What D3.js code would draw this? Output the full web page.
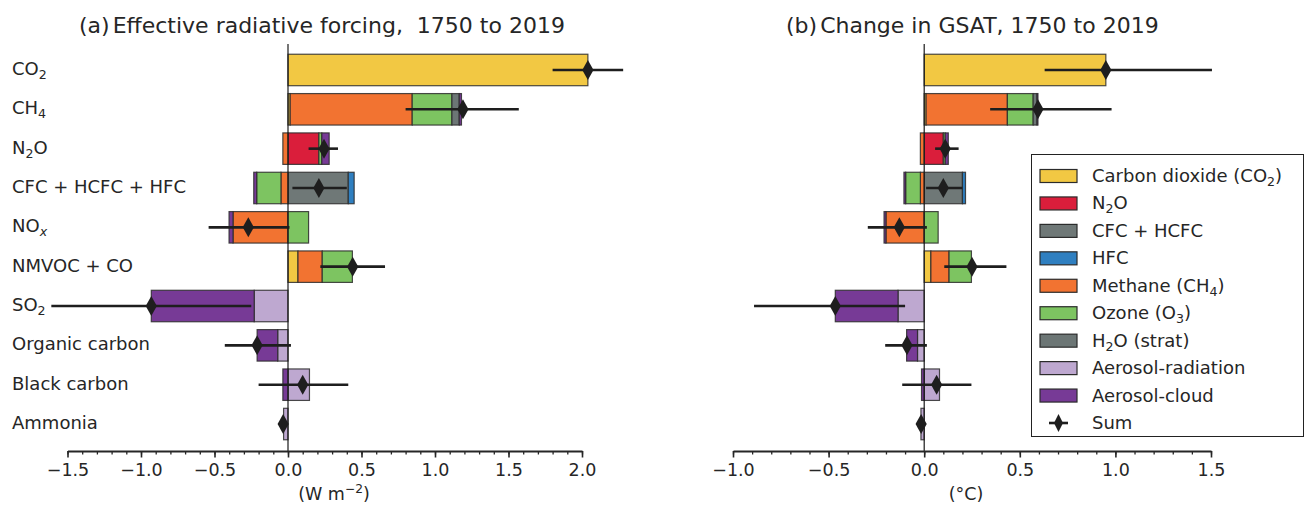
<!DOCTYPE html>
<html><head><meta charset="utf-8">
<script src="https://cdn.jsdelivr.net/npm/d3@7"></script>
<style>
html,body{margin:0;padding:0;background:#fff;}
svg{display:block;font-family:"DejaVu Sans",sans-serif;}
</style></head>
<body><svg id="c" width="1305" height="506"></svg>
<script>
// ---------- DATA ----------
const categories = ["CO_2","CH_4","N_2O","CFC + HCFC + HFC","NO_x","NMVOC + CO","SO_2","Organic carbon","Black carbon","Ammonia"];
const components = ["co2","n2o","cfc","hfc","ch4","o3","h2o","aerRad","aerCloud"];
const componentLabels = ["Carbon dioxide (CO_2)","N_2O","CFC + HCFC","HFC","Methane (CH_4)","Ozone (O_3)","H_2O (strat)","Aerosol-radiation","Aerosol-cloud"];
const componentColors = ["#f2c843","#da1e3b","#6f7877","#2f7fc0","#f27331","#7dc461","#6c7675","#bea8d0","#773a96"];

// (a) Effective radiative forcing, W m-2
const erfCO2      = [2.04, 0.015, 0, 0, 0, 0.068, 0, 0, 0, 0];
const erfN2O      = [0, 0, 0.21, 0, 0, 0, 0, 0, 0, 0];
const erfCFC      = [0, 0, 0, 0.41, 0, 0, 0, 0, 0, 0];
const erfHFC      = [0, 0, 0, 0.04, 0, 0, 0, 0, 0, 0];
const erfCH4      = [0, 0.83, -0.035, -0.048, -0.374, 0.165, 0, 0, 0, 0];
const erfO3       = [0, 0.27, 0.02, -0.165, 0.14, 0.205, 0, 0, 0, 0];
const erfH2O      = [0, 0.05, 0, 0, 0, 0, 0, 0, 0, 0];
const erfAerRad   = [0, 0, 0, 0, 0, 0, -0.23, -0.07, 0.146, -0.03];
const erfAerCloud = [0, 0.015, 0.05, -0.02, -0.027, 0, -0.70, -0.14, -0.035, 0];
const erfSum      = [2.04, 1.19, 0.245, 0.21, -0.27, 0.44, -0.93, -0.21, 0.10, -0.033];
const erfLow      = [1.80, 0.80, 0.14, 0.03, -0.54, 0.22, -1.61, -0.43, -0.20, -0.04];
const erfHigh     = [2.28, 1.57, 0.34, 0.40, 0.01, 0.66, -0.25, 0.02, 0.41, -0.025];

// (b) Change in GSAT, degC
const gsatCO2      = [0.95, 0.01, 0, 0, 0, 0.035, 0, 0, 0, 0];
const gsatN2O      = [0, 0, 0.10, 0, 0, 0, 0, 0, 0, 0];
const gsatCFC      = [0, 0, 0, 0.20, 0, 0, 0, 0, 0, 0];
const gsatHFC      = [0, 0, 0, 0.016, 0, 0, 0, 0, 0, 0];
const gsatCH4      = [0, 0.425, -0.02, -0.02, -0.20, 0.095, 0, 0, 0, 0];
const gsatO3       = [0, 0.135, 0.01, -0.077, 0.073, 0.117, 0, 0, 0, 0];
const gsatH2O      = [0, 0.02, 0, 0, 0, 0, 0, 0, 0, 0];
const gsatAerRad   = [0, 0, 0, 0, 0, 0, -0.137, -0.035, 0.08, -0.017];
const gsatAerCloud = [0, 0.005, 0.016, -0.009, -0.01, 0, -0.328, -0.057, -0.014, 0];
const gsatSum      = [0.95, 0.595, 0.11, 0.10, -0.13, 0.25, -0.465, -0.09, 0.065, -0.016];
const gsatLow      = [0.63, 0.345, 0.057, 0.01, -0.295, 0.105, -0.89, -0.204, -0.115, -0.022];
const gsatHigh     = [1.505, 0.98, 0.18, 0.20, 0.014, 0.43, -0.10, 0.014, 0.247, -0.012];

const erfTicks = [-1.5,-1.0,-0.5,0.0,0.5,1.0,1.5,2.0];
const gsatTicks = [-1.0,-0.5,0.0,0.5,1.0,1.5];

// ---------- HELPERS ----------
const svg = d3.select("#c");
const TXT = "#262626";

function rich(textSel, str) {
  const parts = str.split(/(_\{[^}]*\}|_.|\^\{[^}]*\})/).filter(s => s.length);
  let shifted = 0;
  parts.forEach(p => {
    let mode = null, t = p;
    if (p.startsWith("_")) { mode = "sub"; t = p[1] === "{" ? p.slice(2,-1) : p.slice(1); }
    else if (p.startsWith("^")) { mode = "sup"; t = p.slice(2,-1); }
    const ts = textSel.append("tspan").text(t);
    if (mode === "sub") {
      ts.attr("font-size","70%").attr("dy", (0.32 - shifted) + "em");
      shifted = 0.32;
      if (t === "x") ts.attr("font-style","italic");
    } else if (mode === "sup") {
      ts.attr("font-size","70%").attr("dy", (-0.55 - shifted) + "em");
      shifted = -0.55;
    } else {
      if (shifted !== 0) ts.attr("dy", (-shifted*0.7) + "em");
      shifted = 0;
    }
  });
}

const y = d3.scaleBand().domain(categories).range([50.3, 443.7]).paddingInner(0.2).paddingOuter(0.1);
const axisY = 451;

function panel(x, vals, sums, lows, highs, ticks, unitLabel, unitX) {
  const g = svg.append("g");
  const rows = categories.map((c, i) => {
    const r = {cat: c};
    components.forEach((k, j) => r[k] = vals[j][i]);
    return r;
  });
  const stack = d3.stack().keys(components).offset(d3.stackOffsetDiverging)(rows);
  stack.forEach((layer, j) => {
    g.append("g").selectAll("rect").data(layer.filter(d => d[1] !== d[0])).join("rect")
      .attr("x", d => x(Math.min(d[0], d[1])))
      .attr("width", d => Math.abs(x(d[1]) - x(d[0])))
      .attr("y", d => y(d.data.cat))
      .attr("height", y.bandwidth())
      .attr("fill", componentColors[j])
      .attr("stroke", "#2b2b2b").attr("stroke-opacity", 0.85).attr("stroke-width", 1.2);
  });
  // zero line
  g.append("line").attr("x1", x(0)).attr("x2", x(0)).attr("y1", 44).attr("y2", axisY)
    .attr("stroke", "#1a1a1a").attr("stroke-width", 1.2);
  // error bars
  g.append("g").selectAll("line").data(categories).join("line")
    .attr("x1", (c, i) => x(lows[i])).attr("x2", (c, i) => x(highs[i]))
    .attr("y1", c => y(c) + y.bandwidth()/2).attr("y2", c => y(c) + y.bandwidth()/2)
    .attr("stroke", "#1e1e1e").attr("stroke-width", 2.6);
  // diamonds
  g.append("g").selectAll("path").data(categories).join("path")
    .attr("transform", (c, i) => `translate(${x(sums[i])},${y(c) + y.bandwidth()/2})`)
    .attr("d", "M0,-10 L5.6,0 L0,10 L-5.6,0 Z")
    .attr("fill", "#1e1e1e");
  // axis
  const minor = d3.range(Math.round(ticks[0]*10), Math.round(ticks[ticks.length-1]*10) + 1).map(v => v/10);
  const ga = g.append("g").attr("transform", `translate(0,${axisY})`);
  ga.call(d3.axisBottom(x).tickValues(minor).tickSize(3.5).tickFormat(""))
    .call(s => s.select(".domain").remove())
    .call(s => s.selectAll("line").attr("stroke", "#262626").attr("stroke-width", 1.3));
  const gb = g.append("g").attr("transform", `translate(0,${axisY})`);
  gb.call(d3.axisBottom(x).tickValues(ticks).tickSize(6.5).tickSizeOuter(0).tickPadding(6).tickFormat(d3.format(".1f")))
    .call(s => s.select(".domain").attr("stroke", "#262626").attr("stroke-width", 2))
    .call(s => s.selectAll("line").attr("stroke", "#262626").attr("stroke-width", 1.6))
    .call(s => s.selectAll("text").attr("font-size", 17.5).attr("fill", TXT).attr("font-family", "DejaVu Sans"));
  const ut = g.append("text").attr("x", unitX).attr("y", 500).attr("text-anchor", "middle")
    .attr("font-size", 17.5).attr("fill", TXT);
  rich(ut, unitLabel);
}

const xL = d3.scaleLinear().domain([-1.5, 2.0]).range([67.5, 582]);
const xR = d3.scaleLinear().domain([-1.0, 1.5]).range([733, 1211]);

panel(xL, [erfCO2, erfN2O, erfCFC, erfHFC, erfCH4, erfO3, erfH2O, erfAerRad, erfAerCloud],
  erfSum, erfLow, erfHigh, erfTicks, "(W m^{−2})", 334);
panel(xR, [gsatCO2, gsatN2O, gsatCFC, gsatHFC, gsatCH4, gsatO3, gsatH2O, gsatAerRad, gsatAerCloud],
  gsatSum, gsatLow, gsatHigh, gsatTicks, "(°C)", 966);

// category labels
categories.forEach(c => {
  const t = svg.append("text").attr("x", 12).attr("y", y(c) + y.bandwidth()/2 + 5)
    .attr("font-size", 18).attr("fill", TXT);
  rich(t, c);
});

// titles
function title(x, tag, str) {
  const t = svg.append("text").attr("x", x).attr("y", 33).attr("font-size", 22).attr("fill", TXT);
  t.append("tspan").text(tag);
  t.append("tspan").attr("dx", 3).text(str);
}
title(79, "(a)", "Effective radiative forcing,\u00a0\u00a01750 to 2019");
title(786, "(b)", "Change in GSAT, 1750 to 2019");

// legend
const lg = svg.append("g");
lg.append("rect").attr("x", 1031.5).attr("y", 154.5).attr("width", 272).attr("height", 282)
  .attr("fill", "#fff").attr("stroke", "#222").attr("stroke-width", 1);
const legY = d3.scaleLinear().domain([0, 9]).range([176, 423]);
componentLabels.forEach((lab, i) => {
  lg.append("rect").attr("x", 1040).attr("y", legY(i) - 6.5).attr("width", 37).attr("height", 13)
    .attr("fill", componentColors[i]).attr("stroke", "#2b2b2b").attr("stroke-width", 1.2);
  const t = lg.append("text").attr("x", 1092).attr("y", legY(i) + 6).attr("font-size", 18).attr("fill", TXT);
  rich(t, lab);
});
lg.append("line").attr("x1", 1049).attr("x2", 1068).attr("y1", legY(9)).attr("y2", legY(9))
  .attr("stroke", "#1e1e1e").attr("stroke-width", 2.6);
lg.append("path").attr("transform", `translate(1058.5,${legY(9)})`).attr("d", "M0,-9 L4.5,0 L0,9 L-4.5,0 Z").attr("fill", "#1e1e1e");
lg.append("text").attr("x", 1092).attr("y", legY(9) + 6).attr("font-size", 18).attr("fill", TXT).text("Sum");
</script></body></html>
